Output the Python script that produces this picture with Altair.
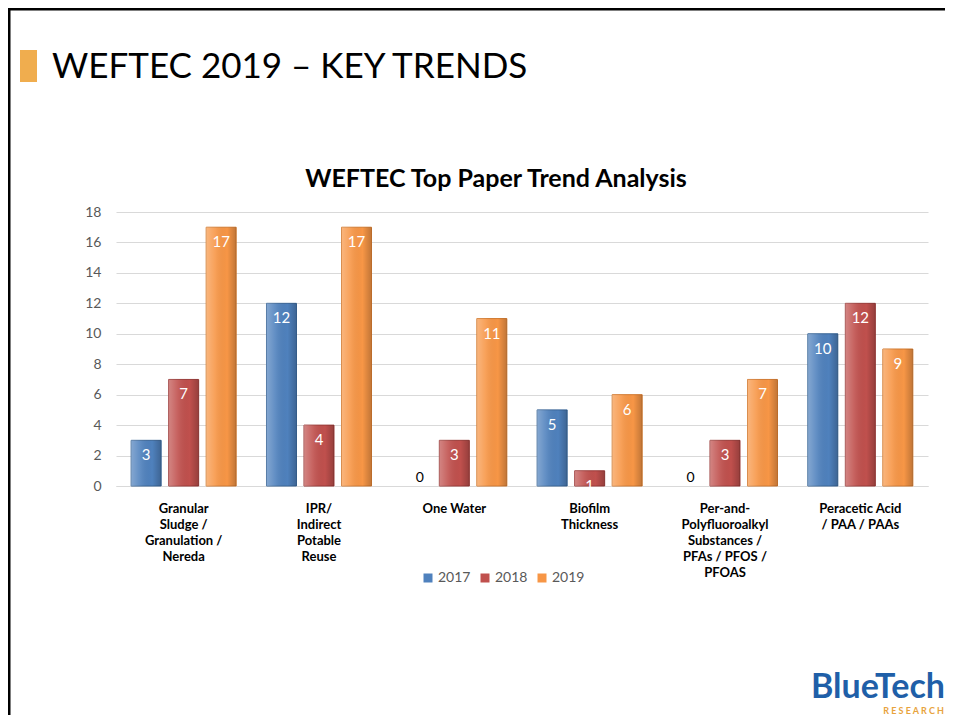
import altair as alt
import pandas as pd

categories = [
    "Granular|Sludge /|Granulation /|Nereda",
    "IPR/|Indirect|Potable|Reuse",
    "One Water",
    "Biofilm|Thickness",
    "Per-and-|Polyfluoroalkyl|Substances /|PFAs / PFOS /|PFOAS",
    "Peracetic Acid|/ PAA / PAAs",
]
years = ["2017", "2018", "2019"]
values_2017 = [3, 12, 0, 5, 0, 10]
values_2018 = [7, 4, 3, 1, 3, 12]
values_2019 = [17, 17, 11, 6, 7, 9]
y_ticks = [0, 2, 4, 6, 8, 10, 12, 14, 16, 18]

slide_title = "WEFTEC 2019 – KEY TRENDS"
chart_title = "WEFTEC Top Paper Trend Analysis"
logo_main = "BlueTech"
logo_sub = "R  E  S  E  A  R  C  H"

fill_colors = ["#4F81BD", "#C0504D", "#F79646"]
stroke_colors = ["#3A6697", "#9B3B39", "#D27A30"]

rows = []
for yr, vals in zip(years, [values_2017, values_2018, values_2019]):
    for c, v in zip(categories, vals):
        rows.append({"category": c, "year": yr, "value": v})
df = pd.DataFrame(rows)

FONT = "Lato"

x_enc = alt.X(
    "category:N",
    sort=categories,
    scale=alt.Scale(paddingInner=0, paddingOuter=0),
    axis=alt.Axis(
        title=None,
        labelAngle=0,
        labelExpr="split(datum.label, '|')",
        labelFont=FONT,
        labelFontWeight="bold",
        labelFontSize=13,
        labelColor="#000000",
        labelLineHeight=16,
        labelPadding=16,
        labelLimit=200,
        ticks=False,
        domain=True,
        domainColor="#d9d9d9",
        grid=False,
    ),
)
xoff_enc = alt.XOffset(
    "year:N", sort=years, scale=alt.Scale(domain=years, paddingInner=0.2, paddingOuter=0.404)
)
y_enc = alt.Y(
    "value:Q",
    scale=alt.Scale(domain=[0, 18], nice=False),
    axis=alt.Axis(
        title=None,
        values=y_ticks,
        domain=False,
        ticks=False,
        grid=True,
        gridColor="#d9d9d9",
        labelFont=FONT,
        labelFontSize=14,
        labelColor="#595959",
        labelPadding=15,
    ),
)

base = alt.Chart(df)

bars = base.mark_bar(strokeWidth=1).encode(
    x=x_enc,
    xOffset=xoff_enc,
    y=y_enc,
    color=alt.Color(
        "year:N",
        sort=years,
        scale=alt.Scale(domain=years, range=fill_colors),
        legend=alt.Legend(
            title=None,
            orient="none",
            direction="horizontal",
            legendX=305,
            legendY=359,
            symbolType="square",
            symbolSize=81,
            symbolStrokeWidth=0,
            labelFont=FONT,
            labelFontSize=14,
            labelColor="#595959",
            labelOffset=3,
            columnPadding=7,
        ),
    ),
    stroke=alt.Stroke(
        "year:N", sort=years, scale=alt.Scale(domain=years, range=stroke_colors), legend=None
    ),
).transform_filter("datum.value > 0")

shade = alt.Gradient(
    gradient="linear",
    x1=0, x2=1, y1=0, y2=0,
    stops=[
        alt.GradientStop(color="rgba(255,255,255,0.30)", offset=0),
        alt.GradientStop(color="rgba(255,255,255,0.10)", offset=0.3),
        alt.GradientStop(color="rgba(0,0,0,0)", offset=0.7),
        alt.GradientStop(color="rgba(0,0,0,0.22)", offset=1),
    ],
)
overlay = base.mark_bar(color=shade).encode(
    x=x_enc, xOffset=xoff_enc, y=y_enc
).transform_filter("datum.value > 0")

labels = base.mark_text(
    color="white", font=FONT, fontSize=15, baseline="middle", dy=15
).encode(x=x_enc, xOffset=xoff_enc, y=y_enc, text="value:Q").transform_filter(
    "datum.value > 0"
)

zero_labels = base.mark_text(
    color="#000000", font=FONT, fontSize=14, baseline="middle", dy=-8, dx=3
).encode(x=x_enc, xOffset=xoff_enc, y=y_enc, text="value:Q").transform_filter(
    "datum.value == 0"
)

one = pd.DataFrame({"k": [0]})
dec = alt.Chart(one)

top_border = dec.mark_rule(color="#000000", strokeWidth=3).encode(
    x=alt.value(-116), x2=alt.value(840), y=alt.value(-203)
)
left_border = dec.mark_rule(color="#000000", strokeWidth=3).encode(
    x=alt.value(-107), y=alt.value(-204), y2=alt.value(520)
)
orange_box = dec.mark_rect(color="#F0AD4E").encode(
    x=alt.value(-96), x2=alt.value(-79), y=alt.value(-162), y2=alt.value(-130)
)
slide_title_mark = dec.mark_text(
    text=slide_title, font=FONT, fontSize=35, align="left", baseline="alphabetic", color="#000000"
).encode(x=alt.value(-64), y=alt.value(-134))
chart_title_mark = dec.mark_text(
    text=chart_title, font=FONT, fontSize=25, fontWeight="bold", align="center",
    baseline="alphabetic", color="#000000"
).encode(x=alt.value(380), y=alt.value(-25))
logo_main_mark = dec.mark_text(
    text=logo_main, font=FONT, fontSize=34, fontWeight="bold", align="right",
    baseline="alphabetic", color="#1F5FA8"
).encode(x=alt.value(829), y=alt.value(486))
logo_sub_mark = dec.mark_text(
    text=logo_sub, font=FONT, fontSize=9, fontWeight="bold", align="right",
    baseline="alphabetic", color="#E8A33D"
).encode(x=alt.value(828), y=alt.value(502))

chart = alt.layer(
    bars, overlay, labels, zero_labels,
    top_border, left_border, orange_box, slide_title_mark, chart_title_mark,
    logo_main_mark, logo_sub_mark,
).properties(
    width=812,
    height=274,
    autosize=alt.AutoSizeParams(type="none"),
    padding={"left": 108, "top": 204, "right": 17, "bottom": 229},
).configure_view(stroke=None)

chart.save("out.html", embed_options={"renderer": "svg", "actions": False})
